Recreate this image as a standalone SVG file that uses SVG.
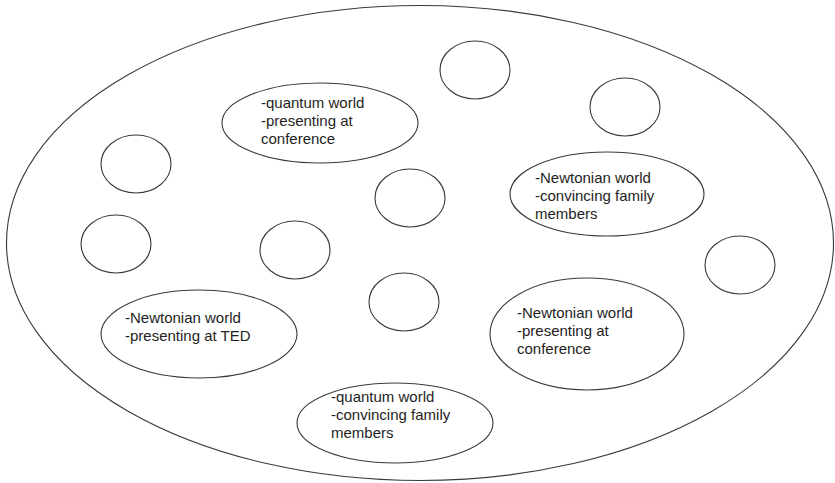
<svg xmlns="http://www.w3.org/2000/svg" width="835" height="483" viewBox="0 0 835 483">
  <style>
    .shape { fill: none; stroke: #3a3a3a; stroke-width: 1.1; }
    .label { font-family: "Liberation Sans", Arial, sans-serif; font-size: 15px; fill: #1e1e1e; }
  </style>
  <rect width="835" height="483" fill="#ffffff"/>

  <!-- enclosing set -->
  <g id="universe">
    <ellipse class="shape" cx="420" cy="243" rx="413.5" ry="237.5"/>
  </g>

  <!-- empty members -->
  <g id="empty-1"><ellipse class="shape" cx="475" cy="70" rx="35" ry="29"/></g>
  <g id="empty-2"><ellipse class="shape" cx="625" cy="107" rx="35" ry="29"/></g>
  <g id="empty-3"><ellipse class="shape" cx="136" cy="164" rx="35" ry="29"/></g>
  <g id="empty-4"><ellipse class="shape" cx="410" cy="198" rx="35" ry="29"/></g>
  <g id="empty-5"><ellipse class="shape" cx="116" cy="244" rx="35" ry="29"/></g>
  <g id="empty-6"><ellipse class="shape" cx="295" cy="250" rx="35" ry="29"/></g>
  <g id="empty-7"><ellipse class="shape" cx="404" cy="302" rx="35" ry="29"/></g>
  <g id="empty-8"><ellipse class="shape" cx="740" cy="265" rx="35" ry="29"/></g>

  <!-- labelled members -->
  <g id="quantum-conference">
    <ellipse class="shape" cx="320" cy="123" rx="98" ry="40"/>
    <text class="label" x="261" y="108">-quantum world</text>
    <text class="label" x="261" y="126">-presenting at</text>
    <text class="label" x="261" y="144">conference</text>
  </g>

  <g id="newtonian-family">
    <ellipse class="shape" cx="607" cy="194" rx="97" ry="42"/>
    <text class="label" x="535" y="183">-Newtonian world</text>
    <text class="label" x="535" y="201">-convincing family</text>
    <text class="label" x="535" y="219">members</text>
  </g>

  <g id="newtonian-ted">
    <ellipse class="shape" cx="199" cy="334" rx="98" ry="44"/>
    <text class="label" x="125" y="323">-Newtonian world</text>
    <text class="label" x="125" y="341">-presenting at TED</text>
  </g>

  <g id="newtonian-conference">
    <ellipse class="shape" cx="587" cy="334" rx="97" ry="56"/>
    <text class="label" x="517" y="318">-Newtonian world</text>
    <text class="label" x="517" y="336">-presenting at</text>
    <text class="label" x="517" y="354">conference</text>
  </g>

  <g id="quantum-family">
    <ellipse class="shape" cx="395" cy="423" rx="98" ry="40"/>
    <text class="label" x="331" y="402">-quantum world</text>
    <text class="label" x="331" y="420">-convincing family</text>
    <text class="label" x="331" y="438">members</text>
  </g>

  <!-- no connectors in this drawing -->
  <g id="connectors"/>
</svg>
